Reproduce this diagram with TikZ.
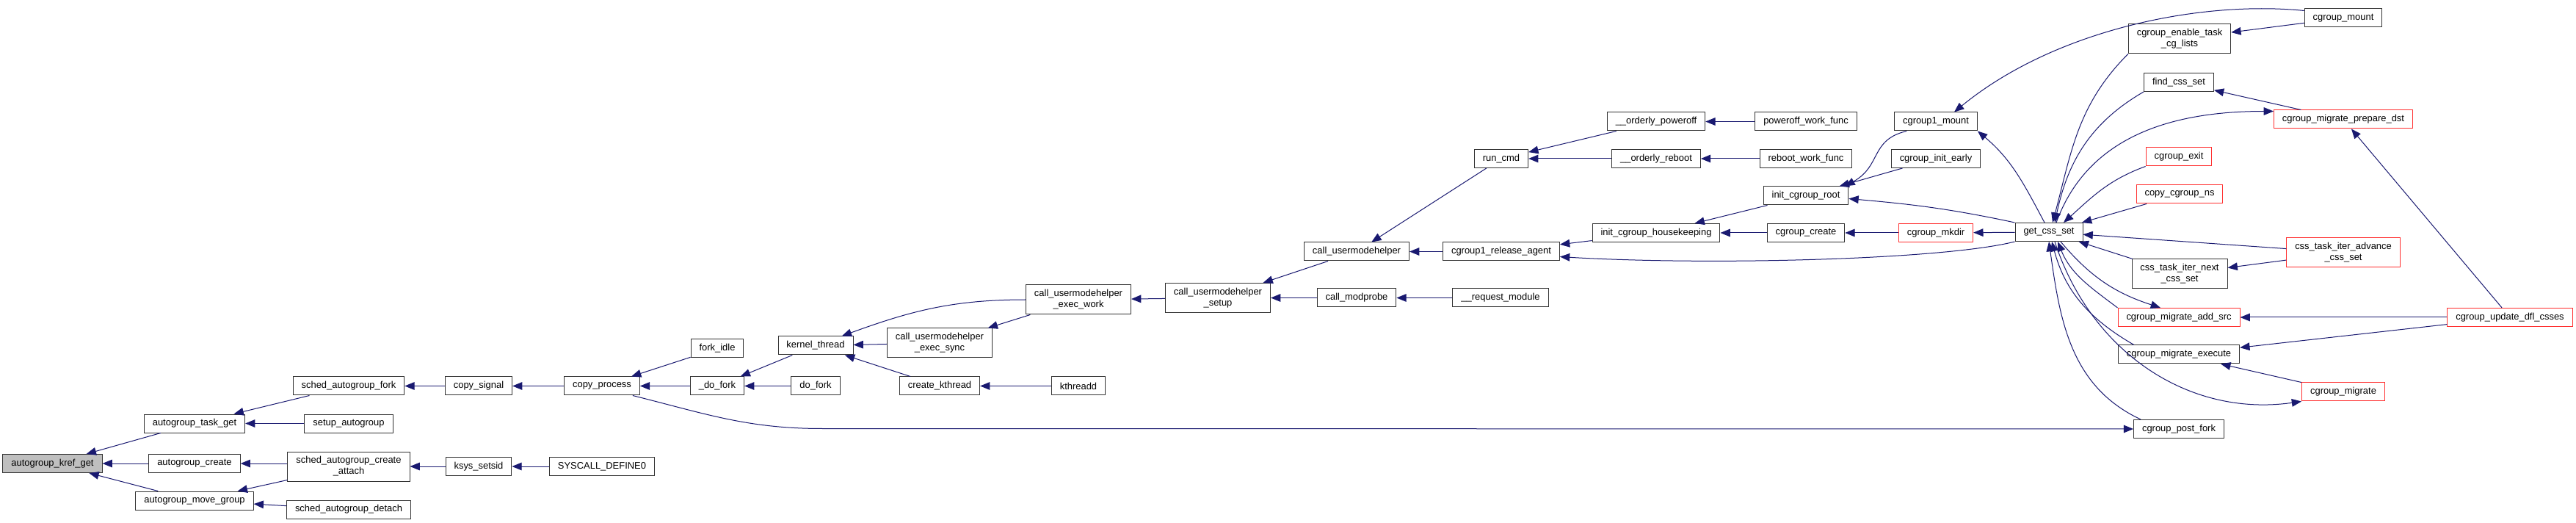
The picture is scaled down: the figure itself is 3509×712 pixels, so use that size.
\documentclass[tikz,border=0pt]{standalone}
\usepackage{fontspec}
\setmainfont{Liberation Sans}
\usepackage{xcolor}
\usepackage{tikz}
\usetikzlibrary{arrows.meta,calc}
\definecolor{callblue}{RGB}{25, 25, 112}
\definecolor{boxred}{RGB}{255, 48, 48}
\definecolor{rootgray}{RGB}{191, 191, 191}

\begin{document}
\begin{tikzpicture}[x=0.75pt,y=0.75pt,
    fn/.style={draw=black!80,fill=white,line width=0.75pt,inner xsep=8.6pt,inner ysep=0pt,
        minimum height=18.75pt,align=center,font=\fontsize{9.7}{11.3}\selectfont},
    fnred/.style={fn,draw=boxred},
    fnroot/.style={fn,fill=rootgray},
    twoline/.style={minimum height=30pt},
    calls/.style={callblue,line width=0.75pt,-{Triangle[length=10pt,width=8pt]}}]
    \useasboundingbox (0,0) rectangle (3509,-712);
    % autogroup side
    \node[fnroot] (krefget) at (71.5,-631) {autogroup\_kref\_get};
    \node[fn] (taskget) at (265,-576.5) {autogroup\_task\_get};
    \node[fn] (agcreate) at (265,-631) {autogroup\_create};
    \node[fn] (movegroup) at (265,-681.5) {autogroup\_move\_group};
    \node[fn] (schedfork) at (475,-525.5) {sched\_autogroup\_fork};
    \node[fn] (setupag) at (475,-576.5) {setup\_autogroup};
    \node[fn,twoline] (createattach) at (475,-635) {sched\_autogroup\_create\\\_attach};
    \node[fn] (detach) at (475,-693.5) {sched\_autogroup\_detach};
    \node[fn] (copysignal) at (652,-525.5) {copy\_signal};
    \node[fn] (copyprocess) at (820,-525.5) {copy\_process};
    \node[fn] (ksyssetsid) at (652,-635) {ksys\_setsid};
    \node[fn] (syscalldef) at (820,-635) {SYSCALL\_DEFINE0};
    \node[fn] (forkidle) at (977,-474.5) {fork\_idle};
    \node[fn] (udofork) at (977,-525.5) {\_do\_fork};
    \node[fn] (kthread) at (1111,-470.5) {kernel\_thread};
    \node[fn] (dofork) at (1111,-525.5) {do\_fork};
    \node[fn,twoline] (execsync) at (1280,-467) {call\_usermodehelper\\\_exec\_sync};
    \node[fn] (createkthread) at (1280,-525.5) {create\_kthread};
    \node[fn,twoline] (execwork) at (1469,-408) {call\_usermodehelper\\\_exec\_work};
    \node[fn] (kthreadd) at (1469,-525.5) {kthreadd};
    \node[fn,twoline] (umhsetup) at (1659,-405.5) {call\_usermodehelper\\\_setup};
    \node[fn] (umh) at (1848,-342.5) {call\_usermodehelper};
    \node[fn] (modprobe) at (1848,-405.5) {call\_modprobe};
    \node[fn] (reqmodule) at (2044,-405.5) {\_\_request\_module};
    \node[fn] (runcmd) at (2045,-216) {run\_cmd};
    \node[fn] (releaseagent) at (2045,-342.5) {cgroup1\_release\_agent};
    \node[fn] (poweroff) at (2256,-165.5) {\_\_orderly\_poweroff};
    \node[fn] (reboot) at (2256,-216) {\_\_orderly\_reboot};
    \node[fn] (housekeeping) at (2256,-317) {init\_cgroup\_housekeeping};
    \node[fn] (poweroffwork) at (2460,-165.5) {poweroff\_work\_func};
    \node[fn] (rebootwork) at (2460,-216) {reboot\_work\_func};
    \node[fn] (initroot) at (2460,-266.5) {init\_cgroup\_root};
    \node[fn] (cgcreate) at (2460,-317) {cgroup\_create};
    % cgroup side
    \node[fn] (cgonemount) at (2637,-165.5) {cgroup1\_mount};
    \node[fn] (initearly) at (2637,-216) {cgroup\_init\_early};
    \node[fnred] (cgmkdir) at (2637,-317) {cgroup\_mkdir};
    \node[fn] (getcss) at (2791,-316) {get\_css\_set};
    \node[fn,twoline] (enabletask) at (2969,-53) {cgroup\_enable\_task\\\_cg\_lists};
    \node[fn] (findcss) at (2968,-112) {find\_css\_set};
    \node[fnred] (cgexit) at (2968,-213.5) {cgroup\_exit};
    \node[fnred] (copyns) at (2969,-264.5) {copy\_cgroup\_ns};
    \node[fn,twoline] (iternext) at (2969,-373) {css\_task\_iter\_next\\\_css\_set};
    \node[fnred] (addsrc) at (2968,-432) {cgroup\_migrate\_add\_src};
    \node[fn] (execute) at (2968,-482.5) {cgroup\_migrate\_execute};
    \node[fn] (postfork) at (2968,-584) {cgroup\_post\_fork};
    \node[fn] (cgmount) at (3192,-24.5) {cgroup\_mount};
    \node[fnred] (preparedst) at (3192,-162.5) {cgroup\_migrate\_prepare\_dst};
    \node[fnred,twoline] (iteradvance) at (3192,-344) {css\_task\_iter\_advance\\\_css\_set};
    \node[fnred] (cgmigrate) at (3192,-533.5) {cgroup\_migrate};
    \node[fnred] (updatedfl) at (3419,-432) {cgroup\_update\_dfl\_csses};
    \coordinate (pfbend) at (1120,-583.5);

    \draw[calls] (taskget) -- (krefget);
    \draw[calls] (agcreate) -- (krefget);
    \draw[calls] (movegroup) -- (krefget);
    \draw[calls] (schedfork) -- (taskget);
    \draw[calls] (setupag) -- (taskget);
    \draw[calls] (createattach.west |- agcreate) -- (agcreate);
    \draw[calls] (createattach) -- (movegroup);
    \draw[calls] (detach) -- (movegroup);
    \draw[calls] (copysignal) -- (schedfork);
    \draw[calls] (copyprocess) -- (copysignal);
    \draw[calls] (syscalldef) -- (ksyssetsid);
    \draw[calls] (ksyssetsid.west) -- (createattach.east |- ksyssetsid.west);
    \draw[calls] (forkidle) -- (copyprocess);
    \draw[calls] (udofork) -- (copyprocess);
    \draw[calls] (kthread) -- (udofork);
    \draw[calls] (dofork) -- (udofork);
    \draw[calls] (execwork.west) to[out=180,in=20] (kthread);
    \draw[calls] (execsync) -- (kthread);
    \draw[calls] (createkthread) -- (kthread);
    \draw[calls] (execwork) -- (execsync);
    \draw[calls] (kthreadd) -- (createkthread);
    \draw[calls] (umhsetup) -- (execwork);
    \draw[calls] (umh) -- (umhsetup);
    \draw[calls] (modprobe) -- (umhsetup);
    \draw[calls] (reqmodule) -- (modprobe);
    \draw[calls] (runcmd) -- (umh);
    \draw[calls] (releaseagent) -- (umh);
    \draw[calls] (poweroff) -- (runcmd);
    \draw[calls] (reboot) -- (runcmd);
    \draw[calls] (poweroffwork) -- (poweroff);
    \draw[calls] (rebootwork) -- (reboot);
    \draw[calls] (housekeeping) -- (releaseagent);
    \draw[calls] (getcss.south west) .. controls +(-100,-25) and +(200,-12) .. ($(releaseagent.east)+(0,-7)$);
    \draw[calls] (initroot) -- (housekeeping);
    \draw[calls] (cgcreate) -- (housekeeping);
    \draw[calls] ($(cgonemount.south west)+(17,0)$) .. controls +(-50,-12) and +(50,28) .. ($(initroot.north east)+(-5,0)$);
    \draw[calls] (initearly) -- (initroot);
    \draw[calls] (getcss.north west) to[out=168,in=-5] ($(initroot.east)+(0,-4)$);
    \draw[calls] (cgmkdir) -- (cgcreate);
    \draw[calls] (getcss) -- (cgmkdir);
    \draw[calls] ($(getcss.north)+(-6,0)$) to[out=118,in=-40] (cgonemount.south east);
    \draw[calls] ($(cgmount.west)+(0,10)$) .. controls +(-140,14) and +(138,113) .. ($(cgonemount.north)+(25,0)$);
    \draw[calls] (cgmount) -- (enabletask);
    \draw[calls] (enabletask.south west) to[out=225,in=75] ($(getcss.north)+(5,0)$);
    \draw[calls] (findcss.south west) to[out=210,in=78] ($(getcss.north)+(8,0)$);
    \draw[calls] ($(getcss.north)+(10,0)$) to[out=70,in=180] ($(preparedst.west)+(0,11)$);
    \draw[calls] (cgexit.south west) to[out=200,in=42] ($(getcss.north)+(20,0)$);
    \draw[calls] (copyns) -- (getcss);
    \draw[calls] (preparedst) -- (findcss);
    \draw[calls] (iteradvance) -- (getcss);
    \draw[calls] (iteradvance) -- (iternext);
    \draw[calls] (iternext) -- (getcss);
    \draw[calls] (addsrc.north west) to[out=143,in=-68] ($(getcss.south)+(12,0)$);
    \draw[calls] ($(getcss.south)+(16,0)$) to[out=-50,in=162] ($(addsrc.north)+(-25,0)$);
    \draw[calls] ($(execute.north west)+(22,0)$) to[out=150,in=-75] ($(getcss.south)+(4,0)$);
    \draw[calls] ($(getcss.south)+(8,0)$) to[out=-72,in=188] (cgmigrate.south west);
    \draw[calls] ($(postfork.north west)+(10,0)$) to[out=155,in=-82] (getcss.south);
    \draw[calls] ($(copyprocess.south east)+(-10,0)$) to[out=-14,in=180] (pfbend) -- (postfork.west);
    \draw[calls] (updatedfl) -- (addsrc);
    \draw[calls] (updatedfl) -- (execute);
    \draw[calls] (updatedfl) -- (preparedst);
    \draw[calls] (cgmigrate) -- (execute);
\end{tikzpicture}
\end{document}
